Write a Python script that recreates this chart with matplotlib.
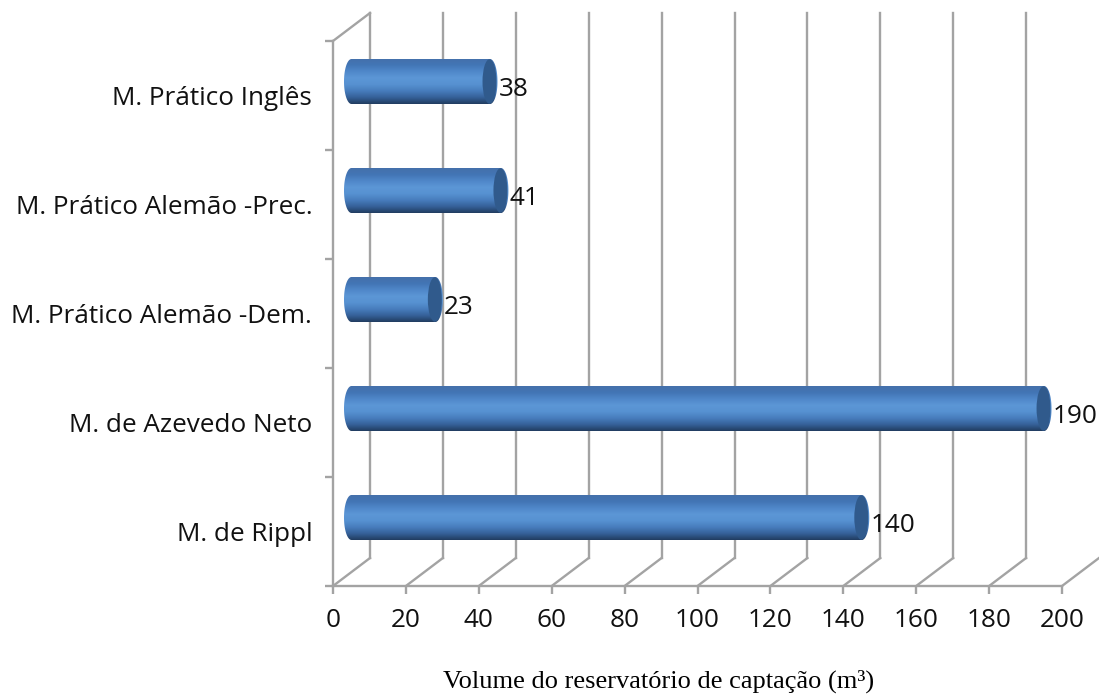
import numpy as np
import matplotlib
matplotlib.use('Agg')
import matplotlib.pyplot as plt
from matplotlib.patches import Ellipse, PathPatch
from matplotlib.path import Path

#chart values, bottom category first
categories = ['M. de Rippl', 'M. de Azevedo Neto', 'M. Prático Alemão -Dem.',
              'M. Prático Alemão -Prec.', 'M. Prático Inglês']
volumes = [140, 190, 23, 41, 38]
xticks = [0, 20, 40, 60, 80, 100, 120, 140, 160, 180, 200]
xlabel_text = 'Volume do reservatório de captação (m³)'

W, H = 1099, 694
grey = '#a3a3a3'
line_w = 1.7
text_size = 18.8
plt.rcParams['font.family'] = ['Open Sans', 'DejaVu Sans']

fig = plt.figure(figsize=(W/100, H/100), dpi=100)
fig.patch.set_facecolor('white')
#axes box is the front plane of the fake 3d chart
ax = fig.add_axes([333/W, 1-586/H, (1062-333)/W, (586-41)/H])
ax.set_xlim(0, 200)
ax.set_ylim(0, 5)
ax.patch.set_alpha(0)
for s in ['top', 'right']:
    ax.spines[s].set_visible(False)
for s in ['left', 'bottom']:
    ax.spines[s].set_color(grey)
    ax.spines[s].set_linewidth(line_w)

#depth of the walls, in data units
px_x = 200/(1062-333)
px_y = 5/(586-41)
dx = 37*px_x
dy = 28*px_y

#walls and floor lines
for t in xticks:
    ax.plot([t, t+dx], [0, dy], color=grey, lw=line_w, clip_on=False, zorder=1)
    if t < 200:
        ax.plot([t+dx, t+dx], [dy, 5+dy], color=grey, lw=line_w, clip_on=False, zorder=1)
ax.plot([0, dx], [5, 5+dy], color=grey, lw=line_w, clip_on=False, zorder=1)

#vertical shading used for every cylinder
stops = np.array([[0.27, 0.44, 0.67], [0.26, 0.46, 0.71], [0.31, 0.53, 0.79],
                  [0.36, 0.59, 0.84], [0.34, 0.57, 0.82], [0.28, 0.49, 0.74],
                  [0.21, 0.38, 0.60], [0.13, 0.24, 0.38]])
pos = np.linspace(0, 1, len(stops))
grad_t = np.linspace(0, 1, 100)
gradient = np.stack([np.interp(grad_t, pos, stops[:, i]) for i in range(3)], axis=1)[:, None, :]

half_h = 22.5*px_y
half_w = 7.5*px_x
theta = np.linspace(0, np.pi, 40)

for i, v in enumerate(volumes):
    yc = i+0.5+dy/2
    x0 = dx/2
    x1 = v+dx/2
    #body outline: rounded on both ends
    right_x = x1+half_w*np.sin(theta)
    right_y = yc+half_h*np.cos(theta)
    left_x = x0-half_w*np.sin(theta)
    left_y = yc-half_h*np.cos(theta)
    verts = np.column_stack([np.r_[right_x, left_x, right_x[0]], np.r_[right_y, left_y, right_y[0]]])
    body = PathPatch(Path(verts), facecolor='none', edgecolor='none', clip_on=False, zorder=3)
    ax.add_patch(body)
    im = ax.imshow(gradient, extent=[x0-half_w, x1+half_w, yc-half_h, yc+half_h], aspect='auto',
                   origin='upper', zorder=3, clip_on=True)
    im.set_clip_path(body)
    #end cap
    cap = Ellipse((x1-0.5*px_x, yc), 2*7*px_x, 2*half_h*0.99, facecolor='#305a8c', edgecolor='none',
                  clip_on=False, zorder=4)
    ax.add_patch(cap)
    ax.annotate(str(v), (x1+half_w, yc), xytext=(1, -6), textcoords='offset points',
                ha='left', va='center', fontsize=text_size, color='#111111', annotation_clip=False, zorder=5)

ax.set_xlim(0, 200)
ax.set_ylim(0, 5)

ax.set_xticks(xticks)
ax.set_yticks(range(6))
ax.set_yticklabels([])
ax.set_yticks(np.arange(5)+0.5, minor=True)
ax.set_yticklabels(categories, minor=True)
ax.tick_params(axis='x', length=6, width=line_w, color=grey, labelsize=text_size, pad=10, labelcolor='#111111')
ax.tick_params(axis='y', which='major', length=6, width=line_w, color=grey)
ax.tick_params(axis='y', which='minor', length=0, labelsize=text_size, pad=15, labelcolor='#111111')

fig.text(659/W, 1-681/H, xlabel_text, family='Liberation Serif', fontsize=19, ha='center', va='center', color='black')

fig.savefig('out.png', dpi=100)
